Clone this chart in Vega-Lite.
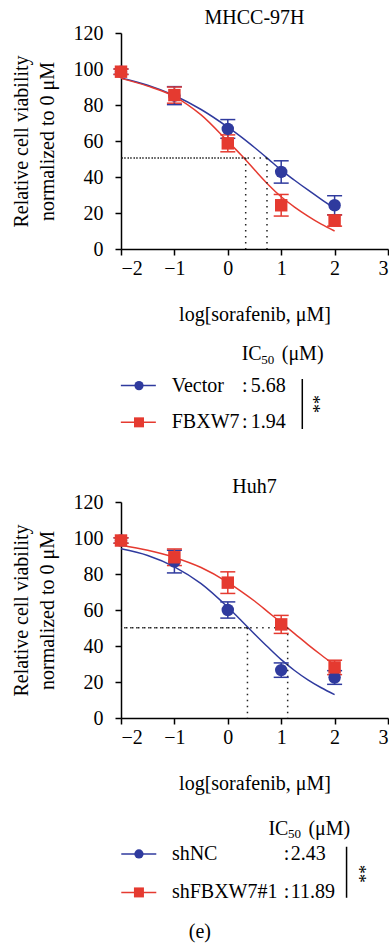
{
  "$schema": "https://vega.github.io/schema/vega-lite/v6.json",
  "background": "white",
  "padding": {"left": 11, "top": 8, "right": 0, "bottom": 5},
  "title": {"text": "(e)", "orient": "bottom", "anchor": "middle", "frame": "bounds", "offset": 20, "fontSize": 20},
  "datasets": {
    "pts": [
      {"panel": "MHCC-97H", "group": "Vector", "logc": -2, "viability": 98.5, "sd": 1.5},
      {"panel": "MHCC-97H", "group": "Vector", "logc": -1, "viability": 85.2, "sd": 5.0},
      {"panel": "MHCC-97H", "group": "Vector", "logc": 0, "viability": 66.7, "sd": 5.2},
      {"panel": "MHCC-97H", "group": "Vector", "logc": 1, "viability": 42.8, "sd": 6.2},
      {"panel": "MHCC-97H", "group": "Vector", "logc": 2, "viability": 24.3, "sd": 5.3},
      {"panel": "MHCC-97H", "group": "FBXW7", "logc": -2, "viability": 98.5, "sd": 1.5},
      {"panel": "MHCC-97H", "group": "FBXW7", "logc": -1, "viability": 85.5, "sd": 4.5},
      {"panel": "MHCC-97H", "group": "FBXW7", "logc": 0, "viability": 58.7, "sd": 4.7},
      {"panel": "MHCC-97H", "group": "FBXW7", "logc": 1, "viability": 24.3, "sd": 6.0},
      {"panel": "MHCC-97H", "group": "FBXW7", "logc": 2, "viability": 15.8, "sd": 3.1},
      {"panel": "Huh7", "group": "shNC", "logc": -2, "viability": 98.6, "sd": 1.5},
      {"panel": "Huh7", "group": "shNC", "logc": -1, "viability": 86.9, "sd": 6.3},
      {"panel": "Huh7", "group": "shNC", "logc": 0, "viability": 60.0, "sd": 4.5},
      {"panel": "Huh7", "group": "shNC", "logc": 1, "viability": 26.6, "sd": 4.0},
      {"panel": "Huh7", "group": "shNC", "logc": 2, "viability": 22.5, "sd": 3.8},
      {"panel": "Huh7", "group": "shFBXW7#1", "logc": -2, "viability": 98.6, "sd": 1.5},
      {"panel": "Huh7", "group": "shFBXW7#1", "logc": -1, "viability": 89.3, "sd": 4.6},
      {"panel": "Huh7", "group": "shFBXW7#1", "logc": 0, "viability": 75.2, "sd": 6.0},
      {"panel": "Huh7", "group": "shFBXW7#1", "logc": 1, "viability": 52.0, "sd": 5.0},
      {"panel": "Huh7", "group": "shFBXW7#1", "logc": 2, "viability": 28.1, "sd": 4.0}
    ],
    "fit": [
      {"panel": "MHCC-97H", "group": "Vector", "logc": -2, "fit": 95.0},
      {"panel": "MHCC-97H", "group": "Vector", "logc": -1.5, "fit": 91.0},
      {"panel": "MHCC-97H", "group": "Vector", "logc": -1, "fit": 85.3},
      {"panel": "MHCC-97H", "group": "Vector", "logc": -0.5, "fit": 77.5},
      {"panel": "MHCC-97H", "group": "Vector", "logc": 0, "fit": 67.7},
      {"panel": "MHCC-97H", "group": "Vector", "logc": 0.25, "fit": 62.3},
      {"panel": "MHCC-97H", "group": "Vector", "logc": 0.5, "fit": 56.4},
      {"panel": "MHCC-97H", "group": "Vector", "logc": 0.75, "fit": 50.2},
      {"panel": "MHCC-97H", "group": "Vector", "logc": 1, "fit": 43.8},
      {"panel": "MHCC-97H", "group": "Vector", "logc": 1.25, "fit": 38.2},
      {"panel": "MHCC-97H", "group": "Vector", "logc": 1.5, "fit": 32.8},
      {"panel": "MHCC-97H", "group": "Vector", "logc": 1.75, "fit": 27.6},
      {"panel": "MHCC-97H", "group": "Vector", "logc": 2, "fit": 22.6},
      {"panel": "MHCC-97H", "group": "FBXW7", "logc": -2, "fit": 94.8},
      {"panel": "MHCC-97H", "group": "FBXW7", "logc": -1.5, "fit": 90.5},
      {"panel": "MHCC-97H", "group": "FBXW7", "logc": -1, "fit": 84.7},
      {"panel": "MHCC-97H", "group": "FBXW7", "logc": -0.5, "fit": 74.5},
      {"panel": "MHCC-97H", "group": "FBXW7", "logc": 0, "fit": 59.8},
      {"panel": "MHCC-97H", "group": "FBXW7", "logc": 0.25, "fit": 52.2},
      {"panel": "MHCC-97H", "group": "FBXW7", "logc": 0.5, "fit": 44.0},
      {"panel": "MHCC-97H", "group": "FBXW7", "logc": 0.75, "fit": 36.0},
      {"panel": "MHCC-97H", "group": "FBXW7", "logc": 1, "fit": 29.0},
      {"panel": "MHCC-97H", "group": "FBXW7", "logc": 1.25, "fit": 23.3},
      {"panel": "MHCC-97H", "group": "FBXW7", "logc": 1.5, "fit": 18.3},
      {"panel": "MHCC-97H", "group": "FBXW7", "logc": 1.75, "fit": 13.8},
      {"panel": "MHCC-97H", "group": "FBXW7", "logc": 2, "fit": 10.0},
      {"panel": "Huh7", "group": "shNC", "logc": -2, "fit": 94.0},
      {"panel": "Huh7", "group": "shNC", "logc": -1.5, "fit": 90.3},
      {"panel": "Huh7", "group": "shNC", "logc": -1, "fit": 84.0},
      {"panel": "Huh7", "group": "shNC", "logc": -0.5, "fit": 74.6},
      {"panel": "Huh7", "group": "shNC", "logc": 0, "fit": 61.5},
      {"panel": "Huh7", "group": "shNC", "logc": 0.25, "fit": 54.2},
      {"panel": "Huh7", "group": "shNC", "logc": 0.5, "fit": 46.7},
      {"panel": "Huh7", "group": "shNC", "logc": 0.75, "fit": 39.4},
      {"panel": "Huh7", "group": "shNC", "logc": 1, "fit": 32.4},
      {"panel": "Huh7", "group": "shNC", "logc": 1.25, "fit": 26.4},
      {"panel": "Huh7", "group": "shNC", "logc": 1.5, "fit": 21.2},
      {"panel": "Huh7", "group": "shNC", "logc": 1.75, "fit": 16.8},
      {"panel": "Huh7", "group": "shNC", "logc": 2, "fit": 13.0},
      {"panel": "Huh7", "group": "shFBXW7#1", "logc": -2, "fit": 96.0},
      {"panel": "Huh7", "group": "shFBXW7#1", "logc": -1.5, "fit": 93.2},
      {"panel": "Huh7", "group": "shFBXW7#1", "logc": -1, "fit": 89.2},
      {"panel": "Huh7", "group": "shFBXW7#1", "logc": -0.5, "fit": 83.6},
      {"panel": "Huh7", "group": "shFBXW7#1", "logc": 0, "fit": 75.4},
      {"panel": "Huh7", "group": "shFBXW7#1", "logc": 0.25, "fit": 70.4},
      {"panel": "Huh7", "group": "shFBXW7#1", "logc": 0.5, "fit": 65.0},
      {"panel": "Huh7", "group": "shFBXW7#1", "logc": 0.75, "fit": 59.0},
      {"panel": "Huh7", "group": "shFBXW7#1", "logc": 1, "fit": 52.9},
      {"panel": "Huh7", "group": "shFBXW7#1", "logc": 1.25, "fit": 46.9},
      {"panel": "Huh7", "group": "shFBXW7#1", "logc": 1.5, "fit": 40.8},
      {"panel": "Huh7", "group": "shFBXW7#1", "logc": 1.75, "fit": 35.0},
      {"panel": "Huh7", "group": "shFBXW7#1", "logc": 2, "fit": 29.4}
    ],
    "ic50": [
      {"panel": "MHCC-97H", "group": "Vector", "ic50": 5.68, "logIC": 0.734, "half": 50.6},
      {"panel": "MHCC-97H", "group": "FBXW7", "ic50": 1.94, "logIC": 0.335, "half": 50.6},
      {"panel": "Huh7", "group": "shNC", "ic50": 2.43, "logIC": 0.368, "half": 50.1},
      {"panel": "Huh7", "group": "shFBXW7#1", "ic50": 11.89, "logIC": 1.121, "half": 50.1}
    ]
  },
  "spacing": 44,
  "resolve": {"scale": {"color": "independent", "shape": "independent"}},
  "vconcat": [
    {
      "title": {"text": "MHCC-97H", "frame": "group", "offset": -5},
      "width": 267,
      "height": 216,
      "layer": [
        {
          "data": {"name": "fit"},
          "transform": [{"filter": "datum.panel === 'MHCC-97H'"}],
          "mark": {"type": "line", "interpolate": "monotone", "strokeWidth": 1.5},
          "encoding": {
            "x": {"field": "logc", "type": "quantitative", "scale": {"domain": [-2, 3], "nice": false}, "axis": {"values": [-2, -1, 0, 1, 2, 3], "title": "log[sorafenib, μM]", "labelPadding": 3, "titlePadding": 26}},
            "y": {"field": "fit", "type": "quantitative", "scale": {"domain": [0, 120], "nice": false}, "axis": {"values": [0, 20, 40, 60, 80, 100, 120], "title": ["Relative cell viability", "normalized to 0 μM"], "labelPadding": 12, "titlePadding": 16}},
            "color": {"field": "group", "type": "nominal", "scale": {"domain": ["Vector", "FBXW7"], "range": ["#2F3A9E", "#E53A30"]}, "legend": null}
          }
        },
        {
          "data": {"name": "ic50"},
          "transform": [{"filter": "datum.panel === 'MHCC-97H'"}],
          "mark": {"type": "rule", "strokeDash": [1.5, 4.5], "strokeWidth": 1.5, "color": "#222"},
          "encoding": {
            "x": {"field": "logIC", "type": "quantitative", "scale": {"domain": [-2, 3], "nice": false}, "axis": {"values": [-2, -1, 0, 1, 2, 3], "title": "log[sorafenib, μM]", "labelPadding": 3, "titlePadding": 26}},
            "x2": {"datum": -2},
            "y": {"field": "half", "type": "quantitative", "scale": {"domain": [0, 120], "nice": false}, "axis": {"values": [0, 20, 40, 60, 80, 100, 120], "title": ["Relative cell viability", "normalized to 0 μM"], "labelPadding": 12, "titlePadding": 16}}
          }
        },
        {
          "data": {"name": "ic50"},
          "transform": [{"filter": "datum.panel === 'MHCC-97H'"}],
          "mark": {"type": "rule", "strokeDash": [1.5, 4.5], "strokeWidth": 1.5, "color": "#222"},
          "encoding": {
            "x": {"field": "logIC", "type": "quantitative", "scale": {"domain": [-2, 3], "nice": false}, "axis": {"values": [-2, -1, 0, 1, 2, 3], "title": "log[sorafenib, μM]", "labelPadding": 3, "titlePadding": 26}},
            "y": {"field": "half", "type": "quantitative", "scale": {"domain": [0, 120], "nice": false}, "axis": {"values": [0, 20, 40, 60, 80, 100, 120], "title": ["Relative cell viability", "normalized to 0 μM"], "labelPadding": 12, "titlePadding": 16}},
            "y2": {"datum": 0}
          }
        },
        {
          "data": {"name": "pts"},
          "transform": [{"filter": "datum.panel === 'MHCC-97H'"}],
          "mark": {"type": "errorbar", "ticks": true, "size": 15, "thickness": 1.5, "opacity": 1},
          "encoding": {
            "x": {"field": "logc", "type": "quantitative", "scale": {"domain": [-2, 3], "nice": false}, "axis": {"values": [-2, -1, 0, 1, 2, 3], "title": "log[sorafenib, μM]", "labelPadding": 3, "titlePadding": 26}},
            "y": {"field": "viability", "type": "quantitative", "scale": {"domain": [0, 120], "nice": false}, "axis": {"values": [0, 20, 40, 60, 80, 100, 120], "title": ["Relative cell viability", "normalized to 0 μM"], "labelPadding": 12, "titlePadding": 16}},
            "yError": {"field": "sd"},
            "color": {"field": "group", "type": "nominal"}
          }
        },
        {
          "data": {"name": "pts"},
          "transform": [{"filter": "datum.panel === 'MHCC-97H'"}],
          "mark": {"type": "point", "filled": true, "opacity": 1, "size": 155},
          "encoding": {
            "x": {"field": "logc", "type": "quantitative", "scale": {"domain": [-2, 3], "nice": false}, "axis": {"values": [-2, -1, 0, 1, 2, 3], "title": "log[sorafenib, μM]", "labelPadding": 3, "titlePadding": 26}},
            "y": {"field": "viability", "type": "quantitative", "scale": {"domain": [0, 120], "nice": false}, "axis": {"values": [0, 20, 40, 60, 80, 100, 120], "title": ["Relative cell viability", "normalized to 0 μM"], "labelPadding": 12, "titlePadding": 16}},
            "color": {"field": "group", "type": "nominal"},
            "shape": {"field": "group", "type": "nominal", "scale": {"domain": ["Vector", "FBXW7"], "range": ["circle", "square"]}, "legend": null}
          }
        },
        {
          "data": {"name": "ic50"},
          "transform": [{"filter": "datum.panel === 'MHCC-97H' && datum.group === 'Vector'"}],
          "mark": {"type": "tick", "orient": "horizontal", "size": 35, "thickness": 1.5, "opacity": 1},
          "encoding": {
            "x": {"datum": -1.675, "type": "quantitative", "scale": {"domain": [-2, 3], "nice": false}, "axis": {"values": [-2, -1, 0, 1, 2, 3], "title": "log[sorafenib, μM]", "labelPadding": 3, "titlePadding": 26}},
            "y": {"datum": -75.9, "type": "quantitative", "scale": {"domain": [0, 120], "nice": false}, "axis": {"values": [0, 20, 40, 60, 80, 100, 120], "title": ["Relative cell viability", "normalized to 0 μM"], "labelPadding": 12, "titlePadding": 16}},
            "color": {"field": "group", "type": "nominal"}
          }
        },
        {
          "data": {"name": "ic50"},
          "transform": [{"filter": "datum.panel === 'MHCC-97H' && datum.group === 'FBXW7'"}],
          "mark": {"type": "tick", "orient": "horizontal", "size": 35, "thickness": 1.5, "opacity": 1},
          "encoding": {
            "x": {"datum": -1.675, "type": "quantitative", "scale": {"domain": [-2, 3], "nice": false}, "axis": {"values": [-2, -1, 0, 1, 2, 3], "title": "log[sorafenib, μM]", "labelPadding": 3, "titlePadding": 26}},
            "y": {"datum": -96.3, "type": "quantitative", "scale": {"domain": [0, 120], "nice": false}, "axis": {"values": [0, 20, 40, 60, 80, 100, 120], "title": ["Relative cell viability", "normalized to 0 μM"], "labelPadding": 12, "titlePadding": 16}},
            "color": {"field": "group", "type": "nominal"}
          }
        },
        {
          "data": {"name": "ic50"},
          "transform": [{"filter": "datum.panel === 'MHCC-97H' && datum.group === 'Vector'"}],
          "mark": {"type": "point", "filled": true, "opacity": 1, "size": 85, "shape": "circle"},
          "encoding": {
            "x": {"datum": -1.663, "type": "quantitative", "scale": {"domain": [-2, 3], "nice": false}, "axis": {"values": [-2, -1, 0, 1, 2, 3], "title": "log[sorafenib, μM]", "labelPadding": 3, "titlePadding": 26}},
            "y": {"datum": -75.9, "type": "quantitative", "scale": {"domain": [0, 120], "nice": false}, "axis": {"values": [0, 20, 40, 60, 80, 100, 120], "title": ["Relative cell viability", "normalized to 0 μM"], "labelPadding": 12, "titlePadding": 16}},
            "color": {"field": "group", "type": "nominal"}
          }
        },
        {
          "data": {"name": "ic50"},
          "transform": [{"filter": "datum.panel === 'MHCC-97H' && datum.group === 'FBXW7'"}],
          "mark": {"type": "point", "filled": true, "opacity": 1, "size": 100, "shape": "square"},
          "encoding": {
            "x": {"datum": -1.663, "type": "quantitative", "scale": {"domain": [-2, 3], "nice": false}, "axis": {"values": [-2, -1, 0, 1, 2, 3], "title": "log[sorafenib, μM]", "labelPadding": 3, "titlePadding": 26}},
            "y": {"datum": -96.3, "type": "quantitative", "scale": {"domain": [0, 120], "nice": false}, "axis": {"values": [0, 20, 40, 60, 80, 100, 120], "title": ["Relative cell viability", "normalized to 0 μM"], "labelPadding": 12, "titlePadding": 16}},
            "color": {"field": "group", "type": "nominal"}
          }
        },
        {
          "data": {"name": "ic50"},
          "transform": [{"filter": "datum.panel === 'MHCC-97H' && datum.group === 'Vector'"}],
          "mark": {"type": "text"},
          "encoding": {
            "x": {"datum": -1.05, "type": "quantitative", "scale": {"domain": [-2, 3], "nice": false}, "axis": {"values": [-2, -1, 0, 1, 2, 3], "title": "log[sorafenib, μM]", "labelPadding": 3, "titlePadding": 26}},
            "y": {"datum": -75.9, "type": "quantitative", "scale": {"domain": [0, 120], "nice": false}, "axis": {"values": [0, 20, 40, 60, 80, 100, 120], "title": ["Relative cell viability", "normalized to 0 μM"], "labelPadding": 12, "titlePadding": 16}},
            "text": {"field": "group", "type": "nominal"}
          }
        },
        {
          "data": {"name": "ic50"},
          "transform": [{"filter": "datum.panel === 'MHCC-97H' && datum.group === 'FBXW7'"}],
          "mark": {"type": "text"},
          "encoding": {
            "x": {"datum": -1.05, "type": "quantitative", "scale": {"domain": [-2, 3], "nice": false}, "axis": {"values": [-2, -1, 0, 1, 2, 3], "title": "log[sorafenib, μM]", "labelPadding": 3, "titlePadding": 26}},
            "y": {"datum": -96.3, "type": "quantitative", "scale": {"domain": [0, 120], "nice": false}, "axis": {"values": [0, 20, 40, 60, 80, 100, 120], "title": ["Relative cell viability", "normalized to 0 μM"], "labelPadding": 12, "titlePadding": 16}},
            "text": {"field": "group", "type": "nominal"}
          }
        },
        {
          "data": {"name": "ic50"},
          "transform": [{"filter": "datum.panel === 'MHCC-97H' && datum.group === 'Vector'"}],
          "mark": {"type": "text"},
          "encoding": {
            "x": {"datum": 0.266, "type": "quantitative", "scale": {"domain": [-2, 3], "nice": false}, "axis": {"values": [-2, -1, 0, 1, 2, 3], "title": "log[sorafenib, μM]", "labelPadding": 3, "titlePadding": 26}},
            "y": {"datum": -75.9, "type": "quantitative", "scale": {"domain": [0, 120], "nice": false}, "axis": {"values": [0, 20, 40, 60, 80, 100, 120], "title": ["Relative cell viability", "normalized to 0 μM"], "labelPadding": 12, "titlePadding": 16}},
            "text": {"value": ":"}
          }
        },
        {
          "data": {"name": "ic50"},
          "transform": [{"filter": "datum.panel === 'MHCC-97H' && datum.group === 'FBXW7'"}],
          "mark": {"type": "text"},
          "encoding": {
            "x": {"datum": 0.266, "type": "quantitative", "scale": {"domain": [-2, 3], "nice": false}, "axis": {"values": [-2, -1, 0, 1, 2, 3], "title": "log[sorafenib, μM]", "labelPadding": 3, "titlePadding": 26}},
            "y": {"datum": -96.3, "type": "quantitative", "scale": {"domain": [0, 120], "nice": false}, "axis": {"values": [0, 20, 40, 60, 80, 100, 120], "title": ["Relative cell viability", "normalized to 0 μM"], "labelPadding": 12, "titlePadding": 16}},
            "text": {"value": ":"}
          }
        },
        {
          "data": {"name": "ic50"},
          "transform": [{"filter": "datum.panel === 'MHCC-97H' && datum.group === 'Vector'"}],
          "mark": {"type": "text"},
          "encoding": {
            "x": {"datum": 0.43, "type": "quantitative", "scale": {"domain": [-2, 3], "nice": false}, "axis": {"values": [-2, -1, 0, 1, 2, 3], "title": "log[sorafenib, μM]", "labelPadding": 3, "titlePadding": 26}},
            "y": {"datum": -75.9, "type": "quantitative", "scale": {"domain": [0, 120], "nice": false}, "axis": {"values": [0, 20, 40, 60, 80, 100, 120], "title": ["Relative cell viability", "normalized to 0 μM"], "labelPadding": 12, "titlePadding": 16}},
            "text": {"field": "ic50", "type": "quantitative", "format": ".2f"}
          }
        },
        {
          "data": {"name": "ic50"},
          "transform": [{"filter": "datum.panel === 'MHCC-97H' && datum.group === 'FBXW7'"}],
          "mark": {"type": "text"},
          "encoding": {
            "x": {"datum": 0.43, "type": "quantitative", "scale": {"domain": [-2, 3], "nice": false}, "axis": {"values": [-2, -1, 0, 1, 2, 3], "title": "log[sorafenib, μM]", "labelPadding": 3, "titlePadding": 26}},
            "y": {"datum": -96.3, "type": "quantitative", "scale": {"domain": [0, 120], "nice": false}, "axis": {"values": [0, 20, 40, 60, 80, 100, 120], "title": ["Relative cell viability", "normalized to 0 μM"], "labelPadding": 12, "titlePadding": 16}},
            "text": {"field": "ic50", "type": "quantitative", "format": ".2f"}
          }
        },
        {
          "data": {"name": "ic50"},
          "transform": [{"filter": "datum.panel === 'MHCC-97H' && datum.group === 'Vector'"}],
          "mark": {"type": "text"},
          "encoding": {
            "x": {"datum": 0.26, "type": "quantitative", "scale": {"domain": [-2, 3], "nice": false}, "axis": {"values": [-2, -1, 0, 1, 2, 3], "title": "log[sorafenib, μM]", "labelPadding": 3, "titlePadding": 26}},
            "y": {"datum": -58.3, "type": "quantitative", "scale": {"domain": [0, 120], "nice": false}, "axis": {"values": [0, 20, 40, 60, 80, 100, 120], "title": ["Relative cell viability", "normalized to 0 μM"], "labelPadding": 12, "titlePadding": 16}},
            "text": {"value": "IC"}
          }
        },
        {
          "data": {"name": "ic50"},
          "transform": [{"filter": "datum.panel === 'MHCC-97H' && datum.group === 'Vector'"}],
          "mark": {"type": "text", "fontSize": 13},
          "encoding": {
            "x": {"datum": 0.627, "type": "quantitative", "scale": {"domain": [-2, 3], "nice": false}, "axis": {"values": [-2, -1, 0, 1, 2, 3], "title": "log[sorafenib, μM]", "labelPadding": 3, "titlePadding": 26}},
            "y": {"datum": -61.6, "type": "quantitative", "scale": {"domain": [0, 120], "nice": false}, "axis": {"values": [0, 20, 40, 60, 80, 100, 120], "title": ["Relative cell viability", "normalized to 0 μM"], "labelPadding": 12, "titlePadding": 16}},
            "text": {"value": "50"}
          }
        },
        {
          "data": {"name": "ic50"},
          "transform": [{"filter": "datum.panel === 'MHCC-97H' && datum.group === 'Vector'"}],
          "mark": {"type": "text"},
          "encoding": {
            "x": {"datum": 1.01, "type": "quantitative", "scale": {"domain": [-2, 3], "nice": false}, "axis": {"values": [-2, -1, 0, 1, 2, 3], "title": "log[sorafenib, μM]", "labelPadding": 3, "titlePadding": 26}},
            "y": {"datum": -58.3, "type": "quantitative", "scale": {"domain": [0, 120], "nice": false}, "axis": {"values": [0, 20, 40, 60, 80, 100, 120], "title": ["Relative cell viability", "normalized to 0 μM"], "labelPadding": 12, "titlePadding": 16}},
            "text": {"value": "(μM)"}
          }
        },
        {
          "data": {"name": "ic50"},
          "transform": [{"filter": "datum.panel === 'MHCC-97H' && datum.group === 'Vector'"}],
          "mark": {"type": "tick", "orient": "vertical", "size": 50, "thickness": 1.5, "opacity": 1, "color": "#000"},
          "encoding": {
            "x": {"datum": 1.395, "type": "quantitative", "scale": {"domain": [-2, 3], "nice": false}, "axis": {"values": [-2, -1, 0, 1, 2, 3], "title": "log[sorafenib, μM]", "labelPadding": 3, "titlePadding": 26}},
            "y": {"datum": -86.1, "type": "quantitative", "scale": {"domain": [0, 120], "nice": false}, "axis": {"values": [0, 20, 40, 60, 80, 100, 120], "title": ["Relative cell viability", "normalized to 0 μM"], "labelPadding": 12, "titlePadding": 16}}
          }
        },
        {
          "data": {"name": "ic50"},
          "transform": [{"filter": "datum.panel === 'MHCC-97H' && datum.group === 'Vector'"}],
          "mark": {"type": "text", "angle": 90, "align": "center", "fontSize": 18},
          "encoding": {
            "x": {"datum": 1.58, "type": "quantitative", "scale": {"domain": [-2, 3], "nice": false}, "axis": {"values": [-2, -1, 0, 1, 2, 3], "title": "log[sorafenib, μM]", "labelPadding": 3, "titlePadding": 26}},
            "y": {"datum": -86.1, "type": "quantitative", "scale": {"domain": [0, 120], "nice": false}, "axis": {"values": [0, 20, 40, 60, 80, 100, 120], "title": ["Relative cell viability", "normalized to 0 μM"], "labelPadding": 12, "titlePadding": 16}},
            "text": {"value": "**"}
          }
        }
      ]
    },
    {
      "title": {"text": "Huh7", "frame": "group", "offset": -5},
      "width": 267,
      "height": 216,
      "layer": [
        {
          "data": {"name": "fit"},
          "transform": [{"filter": "datum.panel === 'Huh7'"}],
          "mark": {"type": "line", "interpolate": "monotone", "strokeWidth": 1.5},
          "encoding": {
            "x": {"field": "logc", "type": "quantitative", "scale": {"domain": [-2, 3], "nice": false}, "axis": {"values": [-2, -1, 0, 1, 2, 3], "title": "log[sorafenib, μM]", "labelPadding": 3, "titlePadding": 26}},
            "y": {"field": "fit", "type": "quantitative", "scale": {"domain": [0, 120], "nice": false}, "axis": {"values": [0, 20, 40, 60, 80, 100, 120], "title": ["Relative cell viability", "normalized to 0 μM"], "labelPadding": 12, "titlePadding": 16}},
            "color": {"field": "group", "type": "nominal", "scale": {"domain": ["shNC", "shFBXW7#1"], "range": ["#2F3A9E", "#E53A30"]}, "legend": null}
          }
        },
        {
          "data": {"name": "ic50"},
          "transform": [{"filter": "datum.panel === 'Huh7'"}],
          "mark": {"type": "rule", "strokeDash": [1.5, 4.5], "strokeWidth": 1.5, "color": "#222"},
          "encoding": {
            "x": {"field": "logIC", "type": "quantitative", "scale": {"domain": [-2, 3], "nice": false}, "axis": {"values": [-2, -1, 0, 1, 2, 3], "title": "log[sorafenib, μM]", "labelPadding": 3, "titlePadding": 26}},
            "x2": {"datum": -2},
            "y": {"field": "half", "type": "quantitative", "scale": {"domain": [0, 120], "nice": false}, "axis": {"values": [0, 20, 40, 60, 80, 100, 120], "title": ["Relative cell viability", "normalized to 0 μM"], "labelPadding": 12, "titlePadding": 16}}
          }
        },
        {
          "data": {"name": "ic50"},
          "transform": [{"filter": "datum.panel === 'Huh7'"}],
          "mark": {"type": "rule", "strokeDash": [1.5, 4.5], "strokeWidth": 1.5, "color": "#222"},
          "encoding": {
            "x": {"field": "logIC", "type": "quantitative", "scale": {"domain": [-2, 3], "nice": false}, "axis": {"values": [-2, -1, 0, 1, 2, 3], "title": "log[sorafenib, μM]", "labelPadding": 3, "titlePadding": 26}},
            "y": {"field": "half", "type": "quantitative", "scale": {"domain": [0, 120], "nice": false}, "axis": {"values": [0, 20, 40, 60, 80, 100, 120], "title": ["Relative cell viability", "normalized to 0 μM"], "labelPadding": 12, "titlePadding": 16}},
            "y2": {"datum": 0}
          }
        },
        {
          "data": {"name": "pts"},
          "transform": [{"filter": "datum.panel === 'Huh7'"}],
          "mark": {"type": "errorbar", "ticks": true, "size": 15, "thickness": 1.5, "opacity": 1},
          "encoding": {
            "x": {"field": "logc", "type": "quantitative", "scale": {"domain": [-2, 3], "nice": false}, "axis": {"values": [-2, -1, 0, 1, 2, 3], "title": "log[sorafenib, μM]", "labelPadding": 3, "titlePadding": 26}},
            "y": {"field": "viability", "type": "quantitative", "scale": {"domain": [0, 120], "nice": false}, "axis": {"values": [0, 20, 40, 60, 80, 100, 120], "title": ["Relative cell viability", "normalized to 0 μM"], "labelPadding": 12, "titlePadding": 16}},
            "yError": {"field": "sd"},
            "color": {"field": "group", "type": "nominal"}
          }
        },
        {
          "data": {"name": "pts"},
          "transform": [{"filter": "datum.panel === 'Huh7'"}],
          "mark": {"type": "point", "filled": true, "opacity": 1, "size": 155},
          "encoding": {
            "x": {"field": "logc", "type": "quantitative", "scale": {"domain": [-2, 3], "nice": false}, "axis": {"values": [-2, -1, 0, 1, 2, 3], "title": "log[sorafenib, μM]", "labelPadding": 3, "titlePadding": 26}},
            "y": {"field": "viability", "type": "quantitative", "scale": {"domain": [0, 120], "nice": false}, "axis": {"values": [0, 20, 40, 60, 80, 100, 120], "title": ["Relative cell viability", "normalized to 0 μM"], "labelPadding": 12, "titlePadding": 16}},
            "color": {"field": "group", "type": "nominal"},
            "shape": {"field": "group", "type": "nominal", "scale": {"domain": ["shNC", "shFBXW7#1"], "range": ["circle", "square"]}, "legend": null}
          }
        },
        {
          "data": {"name": "ic50"},
          "transform": [{"filter": "datum.panel === 'Huh7' && datum.group === 'shNC'"}],
          "mark": {"type": "tick", "orient": "horizontal", "size": 35, "thickness": 1.5, "opacity": 1},
          "encoding": {
            "x": {"datum": -1.667, "type": "quantitative", "scale": {"domain": [-2, 3], "nice": false}, "axis": {"values": [-2, -1, 0, 1, 2, 3], "title": "log[sorafenib, μM]", "labelPadding": 3, "titlePadding": 26}},
            "y": {"datum": -75.5, "type": "quantitative", "scale": {"domain": [0, 120], "nice": false}, "axis": {"values": [0, 20, 40, 60, 80, 100, 120], "title": ["Relative cell viability", "normalized to 0 μM"], "labelPadding": 12, "titlePadding": 16}},
            "color": {"field": "group", "type": "nominal"}
          }
        },
        {
          "data": {"name": "ic50"},
          "transform": [{"filter": "datum.panel === 'Huh7' && datum.group === 'shFBXW7#1'"}],
          "mark": {"type": "tick", "orient": "horizontal", "size": 35, "thickness": 1.5, "opacity": 1},
          "encoding": {
            "x": {"datum": -1.667, "type": "quantitative", "scale": {"domain": [-2, 3], "nice": false}, "axis": {"values": [-2, -1, 0, 1, 2, 3], "title": "log[sorafenib, μM]", "labelPadding": 3, "titlePadding": 26}},
            "y": {"datum": -96.9, "type": "quantitative", "scale": {"domain": [0, 120], "nice": false}, "axis": {"values": [0, 20, 40, 60, 80, 100, 120], "title": ["Relative cell viability", "normalized to 0 μM"], "labelPadding": 12, "titlePadding": 16}},
            "color": {"field": "group", "type": "nominal"}
          }
        },
        {
          "data": {"name": "ic50"},
          "transform": [{"filter": "datum.panel === 'Huh7' && datum.group === 'shNC'"}],
          "mark": {"type": "point", "filled": true, "opacity": 1, "size": 85, "shape": "circle"},
          "encoding": {
            "x": {"datum": -1.664, "type": "quantitative", "scale": {"domain": [-2, 3], "nice": false}, "axis": {"values": [-2, -1, 0, 1, 2, 3], "title": "log[sorafenib, μM]", "labelPadding": 3, "titlePadding": 26}},
            "y": {"datum": -75.5, "type": "quantitative", "scale": {"domain": [0, 120], "nice": false}, "axis": {"values": [0, 20, 40, 60, 80, 100, 120], "title": ["Relative cell viability", "normalized to 0 μM"], "labelPadding": 12, "titlePadding": 16}},
            "color": {"field": "group", "type": "nominal"}
          }
        },
        {
          "data": {"name": "ic50"},
          "transform": [{"filter": "datum.panel === 'Huh7' && datum.group === 'shFBXW7#1'"}],
          "mark": {"type": "point", "filled": true, "opacity": 1, "size": 100, "shape": "square"},
          "encoding": {
            "x": {"datum": -1.664, "type": "quantitative", "scale": {"domain": [-2, 3], "nice": false}, "axis": {"values": [-2, -1, 0, 1, 2, 3], "title": "log[sorafenib, μM]", "labelPadding": 3, "titlePadding": 26}},
            "y": {"datum": -96.9, "type": "quantitative", "scale": {"domain": [0, 120], "nice": false}, "axis": {"values": [0, 20, 40, 60, 80, 100, 120], "title": ["Relative cell viability", "normalized to 0 μM"], "labelPadding": 12, "titlePadding": 16}},
            "color": {"field": "group", "type": "nominal"}
          }
        },
        {
          "data": {"name": "ic50"},
          "transform": [{"filter": "datum.panel === 'Huh7' && datum.group === 'shNC'"}],
          "mark": {"type": "text"},
          "encoding": {
            "x": {"datum": -1.047, "type": "quantitative", "scale": {"domain": [-2, 3], "nice": false}, "axis": {"values": [-2, -1, 0, 1, 2, 3], "title": "log[sorafenib, μM]", "labelPadding": 3, "titlePadding": 26}},
            "y": {"datum": -75.5, "type": "quantitative", "scale": {"domain": [0, 120], "nice": false}, "axis": {"values": [0, 20, 40, 60, 80, 100, 120], "title": ["Relative cell viability", "normalized to 0 μM"], "labelPadding": 12, "titlePadding": 16}},
            "text": {"field": "group", "type": "nominal"}
          }
        },
        {
          "data": {"name": "ic50"},
          "transform": [{"filter": "datum.panel === 'Huh7' && datum.group === 'shFBXW7#1'"}],
          "mark": {"type": "text"},
          "encoding": {
            "x": {"datum": -1.047, "type": "quantitative", "scale": {"domain": [-2, 3], "nice": false}, "axis": {"values": [-2, -1, 0, 1, 2, 3], "title": "log[sorafenib, μM]", "labelPadding": 3, "titlePadding": 26}},
            "y": {"datum": -96.9, "type": "quantitative", "scale": {"domain": [0, 120], "nice": false}, "axis": {"values": [0, 20, 40, 60, 80, 100, 120], "title": ["Relative cell viability", "normalized to 0 μM"], "labelPadding": 12, "titlePadding": 16}},
            "text": {"field": "group", "type": "nominal"}
          }
        },
        {
          "data": {"name": "ic50"},
          "transform": [{"filter": "datum.panel === 'Huh7' && datum.group === 'shNC'"}],
          "mark": {"type": "text"},
          "encoding": {
            "x": {"datum": 1.047, "type": "quantitative", "scale": {"domain": [-2, 3], "nice": false}, "axis": {"values": [-2, -1, 0, 1, 2, 3], "title": "log[sorafenib, μM]", "labelPadding": 3, "titlePadding": 26}},
            "y": {"datum": -75.5, "type": "quantitative", "scale": {"domain": [0, 120], "nice": false}, "axis": {"values": [0, 20, 40, 60, 80, 100, 120], "title": ["Relative cell viability", "normalized to 0 μM"], "labelPadding": 12, "titlePadding": 16}},
            "text": {"value": ":"}
          }
        },
        {
          "data": {"name": "ic50"},
          "transform": [{"filter": "datum.panel === 'Huh7' && datum.group === 'shFBXW7#1'"}],
          "mark": {"type": "text"},
          "encoding": {
            "x": {"datum": 1.047, "type": "quantitative", "scale": {"domain": [-2, 3], "nice": false}, "axis": {"values": [-2, -1, 0, 1, 2, 3], "title": "log[sorafenib, μM]", "labelPadding": 3, "titlePadding": 26}},
            "y": {"datum": -96.9, "type": "quantitative", "scale": {"domain": [0, 120], "nice": false}, "axis": {"values": [0, 20, 40, 60, 80, 100, 120], "title": ["Relative cell viability", "normalized to 0 μM"], "labelPadding": 12, "titlePadding": 16}},
            "text": {"value": ":"}
          }
        },
        {
          "data": {"name": "ic50"},
          "transform": [{"filter": "datum.panel === 'Huh7' && datum.group === 'shNC'"}],
          "mark": {"type": "text"},
          "encoding": {
            "x": {"datum": 1.178, "type": "quantitative", "scale": {"domain": [-2, 3], "nice": false}, "axis": {"values": [-2, -1, 0, 1, 2, 3], "title": "log[sorafenib, μM]", "labelPadding": 3, "titlePadding": 26}},
            "y": {"datum": -75.5, "type": "quantitative", "scale": {"domain": [0, 120], "nice": false}, "axis": {"values": [0, 20, 40, 60, 80, 100, 120], "title": ["Relative cell viability", "normalized to 0 μM"], "labelPadding": 12, "titlePadding": 16}},
            "text": {"field": "ic50", "type": "quantitative", "format": ".2f"}
          }
        },
        {
          "data": {"name": "ic50"},
          "transform": [{"filter": "datum.panel === 'Huh7' && datum.group === 'shFBXW7#1'"}],
          "mark": {"type": "text"},
          "encoding": {
            "x": {"datum": 1.178, "type": "quantitative", "scale": {"domain": [-2, 3], "nice": false}, "axis": {"values": [-2, -1, 0, 1, 2, 3], "title": "log[sorafenib, μM]", "labelPadding": 3, "titlePadding": 26}},
            "y": {"datum": -96.9, "type": "quantitative", "scale": {"domain": [0, 120], "nice": false}, "axis": {"values": [0, 20, 40, 60, 80, 100, 120], "title": ["Relative cell viability", "normalized to 0 μM"], "labelPadding": 12, "titlePadding": 16}},
            "text": {"field": "ic50", "type": "quantitative", "format": ".2f"}
          }
        },
        {
          "data": {"name": "ic50"},
          "transform": [{"filter": "datum.panel === 'Huh7' && datum.group === 'shNC'"}],
          "mark": {"type": "text"},
          "encoding": {
            "x": {"datum": 0.761, "type": "quantitative", "scale": {"domain": [-2, 3], "nice": false}, "axis": {"values": [-2, -1, 0, 1, 2, 3], "title": "log[sorafenib, μM]", "labelPadding": 3, "titlePadding": 26}},
            "y": {"datum": -61.6, "type": "quantitative", "scale": {"domain": [0, 120], "nice": false}, "axis": {"values": [0, 20, 40, 60, 80, 100, 120], "title": ["Relative cell viability", "normalized to 0 μM"], "labelPadding": 12, "titlePadding": 16}},
            "text": {"value": "IC"}
          }
        },
        {
          "data": {"name": "ic50"},
          "transform": [{"filter": "datum.panel === 'Huh7' && datum.group === 'shNC'"}],
          "mark": {"type": "text", "fontSize": 13},
          "encoding": {
            "x": {"datum": 1.127, "type": "quantitative", "scale": {"domain": [-2, 3], "nice": false}, "axis": {"values": [-2, -1, 0, 1, 2, 3], "title": "log[sorafenib, μM]", "labelPadding": 3, "titlePadding": 26}},
            "y": {"datum": -64.4, "type": "quantitative", "scale": {"domain": [0, 120], "nice": false}, "axis": {"values": [0, 20, 40, 60, 80, 100, 120], "title": ["Relative cell viability", "normalized to 0 μM"], "labelPadding": 12, "titlePadding": 16}},
            "text": {"value": "50"}
          }
        },
        {
          "data": {"name": "ic50"},
          "transform": [{"filter": "datum.panel === 'Huh7' && datum.group === 'shNC'"}],
          "mark": {"type": "text"},
          "encoding": {
            "x": {"datum": 1.509, "type": "quantitative", "scale": {"domain": [-2, 3], "nice": false}, "axis": {"values": [-2, -1, 0, 1, 2, 3], "title": "log[sorafenib, μM]", "labelPadding": 3, "titlePadding": 26}},
            "y": {"datum": -61.6, "type": "quantitative", "scale": {"domain": [0, 120], "nice": false}, "axis": {"values": [0, 20, 40, 60, 80, 100, 120], "title": ["Relative cell viability", "normalized to 0 μM"], "labelPadding": 12, "titlePadding": 16}},
            "text": {"value": "(μM)"}
          }
        },
        {
          "data": {"name": "ic50"},
          "transform": [{"filter": "datum.panel === 'Huh7' && datum.group === 'shNC'"}],
          "mark": {"type": "tick", "orient": "vertical", "size": 51, "thickness": 1.5, "opacity": 1, "color": "#000"},
          "encoding": {
            "x": {"datum": 2.224, "type": "quantitative", "scale": {"domain": [-2, 3], "nice": false}, "axis": {"values": [-2, -1, 0, 1, 2, 3], "title": "log[sorafenib, μM]", "labelPadding": 3, "titlePadding": 26}},
            "y": {"datum": -85.7, "type": "quantitative", "scale": {"domain": [0, 120], "nice": false}, "axis": {"values": [0, 20, 40, 60, 80, 100, 120], "title": ["Relative cell viability", "normalized to 0 μM"], "labelPadding": 12, "titlePadding": 16}}
          }
        },
        {
          "data": {"name": "ic50"},
          "transform": [{"filter": "datum.panel === 'Huh7' && datum.group === 'shNC'"}],
          "mark": {"type": "text", "angle": 90, "align": "center", "fontSize": 18},
          "encoding": {
            "x": {"datum": 2.44, "type": "quantitative", "scale": {"domain": [-2, 3], "nice": false}, "axis": {"values": [-2, -1, 0, 1, 2, 3], "title": "log[sorafenib, μM]", "labelPadding": 3, "titlePadding": 26}},
            "y": {"datum": -86.5, "type": "quantitative", "scale": {"domain": [0, 120], "nice": false}, "axis": {"values": [0, 20, 40, 60, 80, 100, 120], "title": ["Relative cell viability", "normalized to 0 μM"], "labelPadding": 12, "titlePadding": 16}},
            "text": {"value": "**"}
          }
        }
      ]
    }
  ],
  "config": {
    "font": "Liberation Serif",
    "view": {"stroke": null},
    "scale": {"continuousPadding": 0},
    "axis": {
      "grid": false,
      "domainColor": "#000",
      "domainWidth": 1.5,
      "tickColor": "#000",
      "tickWidth": 1.5,
      "tickSize": 6,
      "labelFont": "Liberation Serif",
      "labelFontSize": 20,
      "labelColor": "#000",
      "titleFont": "Liberation Serif",
      "titleFontSize": 20,
      "titleFontWeight": "normal",
      "titleColor": "#000",
      "titleLineHeight": 26
    },
    "title": {"font": "Liberation Serif", "fontSize": 20, "fontWeight": "normal", "color": "#000"},
    "text": {"font": "Liberation Serif", "fontSize": 20, "baseline": "middle", "align": "left", "color": "#000"}
  }
}
